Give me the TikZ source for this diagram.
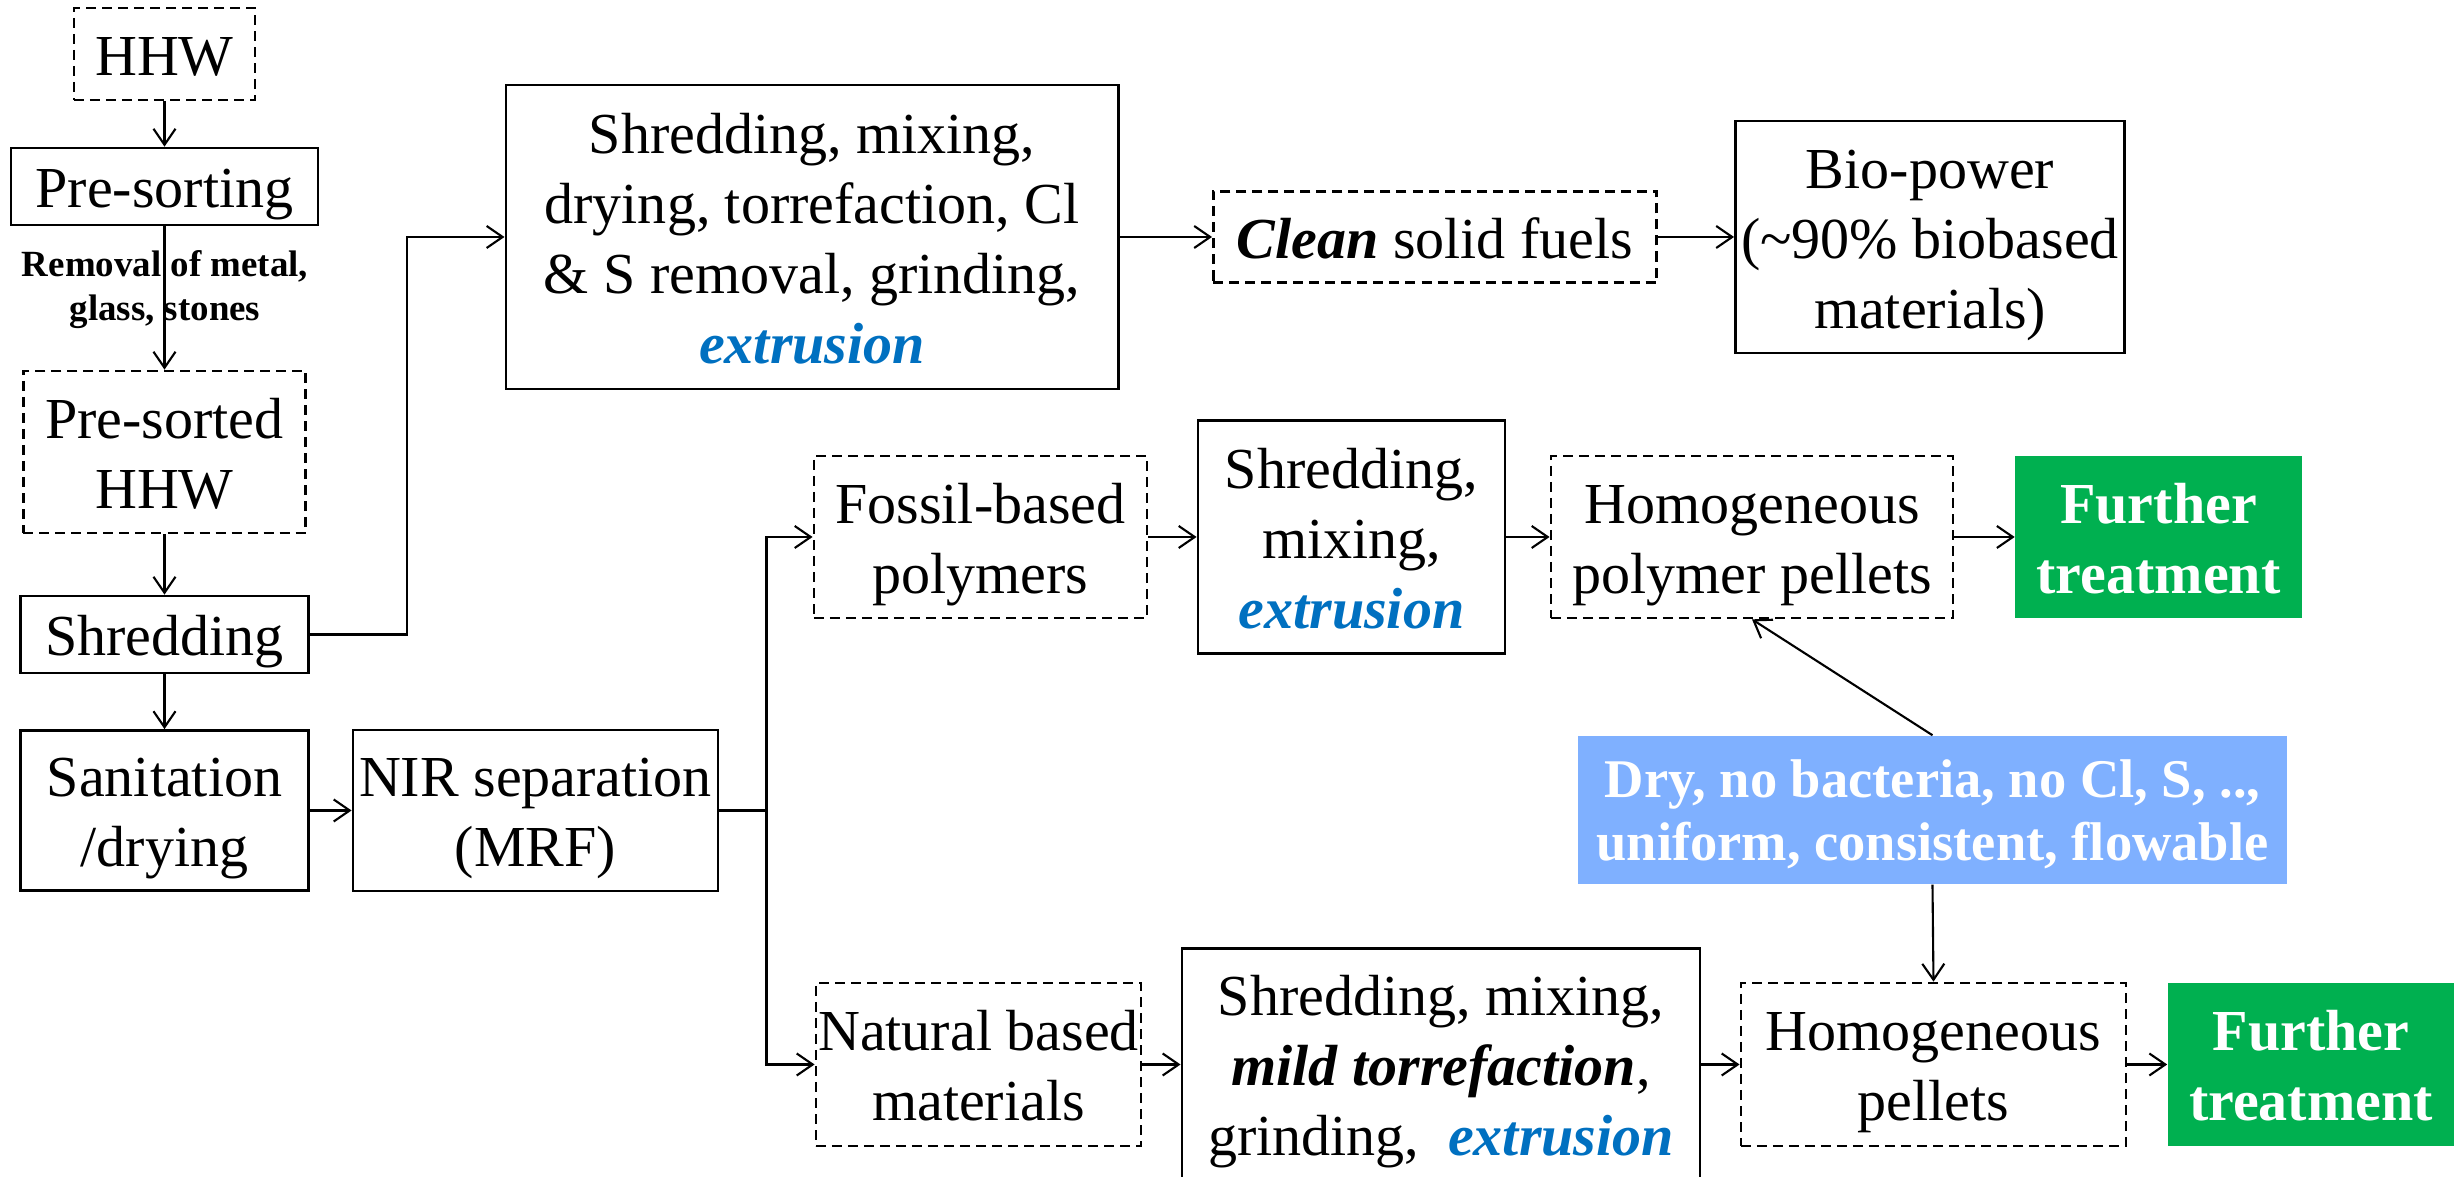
\documentclass[tikz,border=0pt]{standalone}
\usepackage{fontspec}
\setmainfont{Liberation Serif}
\usetikzlibrary{arrows.meta}

\definecolor{extblue}{RGB}{0,112,192}
\definecolor{furgreen}{RGB}{0,176,80}
\definecolor{noteblue}{RGB}{127,176,255}

\newcommand\boxfont{\fontsize{16.5}{19.9}\selectfont}
\newcommand\labfont{\fontsize{10.5}{12.5}\selectfont\bfseries}
\newcommand\notefont{\fontsize{15.5}{17.9}\selectfont\bfseries}
\newcommand\bs{\rule[-3.9pt]{0pt}{19.9pt}}% box strut
\newcommand\ns{\rule[-3.5pt]{0pt}{17.9pt}}% note strut
\newcommand\extr[1]{\textcolor{extblue}{\textbf{\textit{#1}}}}

\tikzset{
    text box/.style={align=center, inner sep=0pt, font=\boxfont, execute at end node=\bs},
    proc box/.style={text box, draw, line width=0.75pt},
    item box/.style={proc box, dash pattern=on 1mm off 0.6mm},
    further box/.style={text box, fill=furgreen, text=white, font=\boxfont\bfseries,
        minimum width=2.86cm, minimum height=1.62cm},
    flow/.style={-{Straight Barb[length=1.6mm,width=2.2mm]}, line width=0.6pt}
    }

\begin{document}
\begin{tikzpicture}[x=0.01cm, y=-0.01cm]
    \useasboundingbox (0,0) rectangle (2456,1177);
    % Left column
    \node(hhw)[item box, minimum width=1.81cm, minimum height=0.92cm] at (164.5,54) {HHW};
    \node(presort)[proc box, minimum width=3.07cm, minimum height=0.77cm] at (164.5,186.5) {Pre-sorting};
    \node(removal)[align=center, font=\labfont] at (165,290) {Removal of metal,\\glass, stones};
    \node(presorted)[item box, minimum width=2.82cm, minimum height=1.62cm] at (164.5,452) {\bs Pre-sorted\\HHW};
    \node(shred)[proc box, minimum width=2.88cm, minimum height=0.77cm] at (164.5,634.5) {Shredding};
    \node(sanit)[proc box, minimum width=2.88cm, minimum height=1.60cm] at (164.5,810.5) {\bs Sanitation\\/drying};
    \node(nir)[proc box, minimum width=3.65cm, minimum height=1.61cm] at (535.5,810.5) {\bs NIR separation\\(MRF)};
    % Fuel route
    \node(fuelproc)[proc box, minimum width=6.12cm, minimum height=3.04cm] at (812,237)
        {\bs Shredding, mixing,\\drying, torrefaction, Cl\\\& S removal, grinding,\\\extr{extrusion}};
    \node(clean)[item box, minimum width=4.43cm, minimum height=0.91cm] at (1435,237) {\textbf{\textit{Clean}} solid fuels};
    \node(biopower)[proc box, minimum width=3.89cm, minimum height=2.32cm] at (1930,237)
        {\bs Bio-power\\(\textasciitilde90\% biobased\\materials)};
    % Polymer route
    \node(fossil)[item box, minimum width=3.33cm, minimum height=1.62cm] at (980.5,537) {\bs Fossil-based\\polymers};
    \node(polyproc)[proc box, minimum width=3.07cm, minimum height=2.33cm] at (1351.5,537) {\bs Shredding,\\mixing,\\\extr{extrusion}};
    \node(polypellet)[item box, minimum width=4.02cm, minimum height=1.62cm] at (1752,537) {\bs Homogeneous\\polymer pellets};
    \node(further1)[further box] at (2158.5,537) {\bs Further\\treatment};
    % Requirements
    \node(note)[fill=noteblue, text=white, align=center, inner sep=0pt, font=\notefont, execute at end node=\ns,
        minimum width=7.09cm, minimum height=1.48cm] at (1932.5,810) {\ns Dry, no bacteria, no Cl, S, ..,\\uniform, consistent, flowable};
    % Natural route
    \node(natural)[item box, minimum width=3.25cm, minimum height=1.63cm] at (978.5,1064.5) {\bs Natural based\\materials};
    \node(natproc)[proc box, minimum width=5.18cm, minimum height=2.32cm] at (1441,1064.5)
        {\bs Shredding, mixing,\\\textbf{\textit{mild torrefaction}},\\grinding,~~\extr{extrusion}};
    \node(pellets)[item box, minimum width=3.85cm, minimum height=1.63cm] at (1933.5,1064.5) {\bs Homogeneous\\pellets};
    \node(further2)[further box] at (2311,1064.5) {\bs Further\\treatment};

    \coordinate(up) at (407,634.5);
    \coordinate(split) at (766.5,810.5);

    % Connectors
    \draw[flow] (hhw) -- (presort);
    \draw[flow] (presort) -- (presorted);
    \draw[flow] (presorted) -- (shred);
    \draw[flow] (shred) -- (sanit);
    \draw[flow] (shred.east) -- (up) |- (fuelproc.west);
    \draw[flow] (sanit) -- (nir);
    \draw[line width=0.6pt] (nir.east) -- (split);
    \draw[flow] (split) |- (fossil.west);
    \draw[flow] (split) |- (natural.west);
    \draw[flow] (fuelproc) -- (clean);
    \draw[flow] (clean) -- (biopower);
    \draw[flow] (fossil) -- (polyproc);
    \draw[flow] (polyproc) -- (polypellet);
    \draw[flow] (polypellet) -- (further1);
    \draw[flow] (natural) -- (natproc);
    \draw[flow] (natproc) -- (pellets);
    \draw[flow] (pellets) -- (further2);
    \draw[flow] (note.north) -- (polypellet.south);
    \draw[flow] (note.south) -- (pellets.north);
\end{tikzpicture}
\end{document}
